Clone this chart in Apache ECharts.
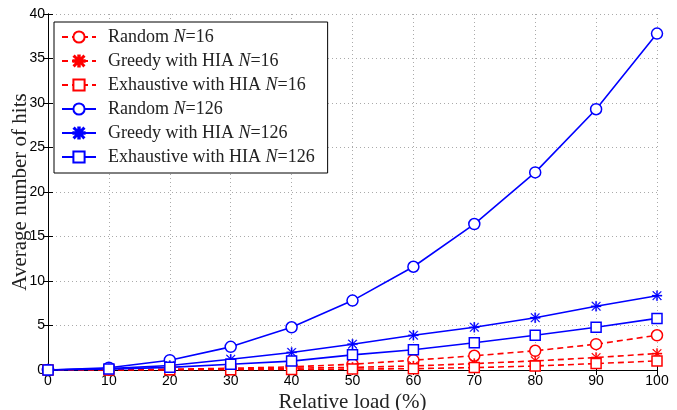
<!DOCTYPE html>
<html>
<head>
<meta charset="utf-8">
<script src="https://cdn.jsdelivr.net/npm/echarts@6/dist/echarts.min.js"></script>
<style>
  html, body { margin: 0; padding: 0; background: #fff; }
  #chart { width: 677px; height: 410px; }
</style>
</head>
<body>
<div id="chart"></div>
<script>
// relative load (%)
const loads = [0, 10, 20, 30, 40, 50, 60, 70, 80, 90, 100]

// N=16 (red, dashed)
const random16 = [0, 0.02, 0.08, 0.2, 0.35, 0.65, 1.1, 1.6, 2.16, 2.9, 3.9]
const greedy16 = [0, 0.0, 0.05, 0.1, 0.2, 0.3, 0.45, 0.72, 1.02, 1.4, 1.85]
const exhaustive16 = [0, 0.0, 0.02, 0.04, 0.05, 0.1, 0.15, 0.27, 0.45, 0.72, 1.02]

// N=126 (blue, solid)
const random126 = [0, 0.26, 1.1, 2.6, 4.8, 7.8, 11.6, 16.4, 22.2, 29.3, 37.8]
const greedy126 = [0, 0.15, 0.5, 1.2, 1.97, 2.9, 3.9, 4.8, 5.87, 7.16, 8.35]
const exhaustive126 = [0, 0.1, 0.3, 0.65, 1.0, 1.7, 2.27, 3.07, 3.9, 4.8, 5.8]

// asterisk marker (plus + cross), matlab style '*'
const STAR = 'path://M8.7,0h2.6v20h-2.6z M0,8.7h20v2.6h-20z M2.2,0.9L3.5,2.2L19.1,17.8L17.8,19.1z M0.9,2.2L2.2,0.9L17.8,16.5L19.1,17.8z M16.5,2.2L17.8,0.9L19.1,2.2L3.5,17.8L2.2,19.1L0.9,17.8z'

const chart = echarts.init(document.getElementById('chart'))

function mkSeries(name, data, color, dashed, symbol, size) {
  const star = symbol === STAR
  return {
    name: name,
    type: 'line',
    data: loads.map((x, i) => [x, data[i]]),
    symbol: symbol,
    symbolSize: size,
    showAllSymbol: true,
    color: color,
    lineStyle: { color: color, width: 1.6, type: dashed ? [6, 4] : 'solid' },
    itemStyle: {
      color: star ? color : '#fff',
      borderColor: color,
      borderWidth: star ? 0.3 : 1.5,
      opacity: 1
    },
    animation: false
  }
}

const serif = 'Liberation Serif, Times New Roman, serif'
const sans = 'Liberation Sans, Arial, sans-serif'

chart.setOption({
  backgroundColor: '#fff',
  grid: { left: 48, right: 20, top: 14, bottom: 40, outerBoundsMode: 'none' },
  legend: {
    left: 54,
    top: 22,
    orient: 'vertical',
    padding: [5, 13, 6, 7],
    itemWidth: 34,
    itemHeight: 14,
    itemGap: 4,
    borderColor: '#000',
    borderWidth: 1,
    backgroundColor: '#fff',
    textStyle: {
      fontFamily: serif,
      fontSize: 18,
      lineHeight: 20,
      color: '#222',
      padding: [0, 0, 0, 7],
      rich: {
        it: { fontFamily: serif, fontSize: 18, lineHeight: 20, fontStyle: 'italic', color: '#222' }
      }
    },
    formatter: function (name) {
      return name.replace('N=', '{it|N}=')
    }
  },
  xAxis: [{
    type: 'value',
    min: 0,
    max: 100,
    interval: 10,
    name: 'Relative load (%)',
    nameLocation: 'middle',
    nameGap: 22,
    nameMoveOverlap: false,
    nameTextStyle: { fontFamily: serif, fontSize: 21, color: '#222' },
    axisLine: { lineStyle: { color: '#000', width: 1 } },
    axisTick: { inside: true, length: 5, lineStyle: { color: '#000' } },
    axisLabel: { fontFamily: sans, fontSize: 14, color: '#000', margin: 4 },
    splitLine: { show: true, lineStyle: { color: '#aaa', type: [1, 3] } }
  }, {
    type: 'value',
    position: 'top',
    min: 0,
    max: 100,
    interval: 10,
    axisLine: { show: true, lineStyle: { color: '#000', width: 1 } },
    axisTick: { inside: true, length: 5, lineStyle: { color: '#000' } },
    axisLabel: { show: false },
    splitLine: { show: false }
  }],
  yAxis: [{
    type: 'value',
    min: 0,
    max: 40,
    interval: 5,
    name: 'Average number of hits',
    nameLocation: 'middle',
    nameGap: 17,
    nameMoveOverlap: false,
    nameTextStyle: { fontFamily: serif, fontSize: 21, color: '#222' },
    axisLine: { show: true, lineStyle: { color: '#000', width: 1 } },
    axisTick: { show: true, inside: true, length: 5, lineStyle: { color: '#000' } },
    axisLabel: { fontFamily: sans, fontSize: 14, color: '#000', margin: 3 },
    splitLine: { show: true, lineStyle: { color: '#aaa', type: [1, 3] } }
  }, {
    type: 'value',
    position: 'right',
    min: 0,
    max: 40,
    interval: 5,
    axisLine: { show: true, lineStyle: { color: '#000', width: 1 } },
    axisTick: { show: true, inside: true, length: 5, lineStyle: { color: '#000' } },
    axisLabel: { show: false },
    splitLine: { show: false }
  }],
  series: [
    mkSeries('Random N=16', random16, '#ff0000', true, 'circle', 11),
    mkSeries('Greedy with HIA N=16', greedy16, '#ff0000', true, STAR, 10),
    mkSeries('Exhaustive with HIA N=16', exhaustive16, '#ff0000', true, 'rect', 10),
    mkSeries('Random N=126', random126, '#0000ff', false, 'circle', 11),
    mkSeries('Greedy with HIA N=126', greedy126, '#0000ff', false, STAR, 10),
    mkSeries('Exhaustive with HIA N=126', exhaustive126, '#0000ff', false, 'rect', 10)
  ]
})
</script>
</body>
</html>
